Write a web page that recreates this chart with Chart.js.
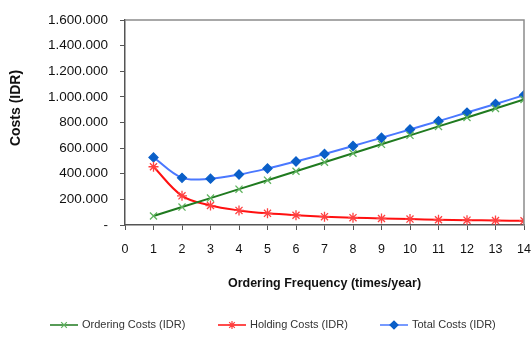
<!DOCTYPE html>
<html>
<head>
<meta charset="utf-8">
<script src="https://cdn.jsdelivr.net/npm/chart.js@4.4.0/dist/chart.umd.min.js"></script>
<style>
  html, body { margin: 0; padding: 0; background: #fff; }
  #wrap { width: 532px; height: 343px; }
</style>
</head>
<body>
<div id="wrap"><canvas id="grafico" width="532" height="343"></canvas></div>
<script>
// Frequência de pedidos (vezes/ano) e custos em IDR
const frequencia = [1, 2, 3, 4, 5, 6, 7, 8, 9, 10, 11, 12, 13, 14];
const custoPedido = [70000, 140000, 210000, 280000, 350000, 420000, 490000, 560000, 630000, 700000, 770000, 840000, 910000, 980000];
const custoEstoque = [455000, 228000, 152000, 114000, 91000, 76000, 65000, 57000, 51000, 46000, 41000, 38000, 35000, 33000];
const custoTotal = [528000, 368000, 362000, 394000, 441000, 496000, 555000, 617000, 681000, 746000, 811000, 878000, 945000, 1013000];
const ticksY = [0, 200000, 400000, 600000, 800000, 1000000, 1200000, 1400000, 1600000];

const fonte = "'Liberation Sans', Arial, sans-serif";

function pontos(valores) {
    return frequencia.map((f, i) => ({ x: f, y: valores[i] }));
}

// Formata no padrão 1.600.000, zero vira "-"
function formatarValor(v) {
    if (v === 0) return '-';
    return v.toString().replace(/\B(?=(\d{3})+(?!\d))/g, '.');
}

const series = [
    { label: 'Ordering Costs (IDR)', data: custoPedido, linha: '#1f7a1f', ponto: '#5fb35f', estilo: 'crossRot', raio: 5, tensao: 0 },
    { label: 'Holding Costs (IDR)', data: custoEstoque, linha: '#ff1010', ponto: '#ff4040', estilo: 'star', raio: 5, tensao: 0.35 },
    { label: 'Total Costs (IDR)', data: custoTotal, linha: '#4a78ff', ponto: '#0a5fc8', estilo: 'rectRot', raio: 4.5, tensao: 0.35 }
];

// Moldura cinza em volta da área do gráfico
const moldura = {
    id: 'moldura',
    afterDraw(chart) {
        const { ctx, chartArea: a } = chart;
        ctx.save();
        ctx.strokeStyle = '#8c8c8c';
        ctx.lineWidth = 1.5;
        ctx.beginPath();
        ctx.moveTo(a.left, a.top);
        ctx.lineTo(a.right, a.top);
        ctx.lineTo(a.right, a.bottom);
        ctx.stroke();
        ctx.restore();
    }
};

// Título do eixo Y, um pouco acima do centro
const tituloY = {
    id: 'tituloY',
    afterDraw(chart) {
        const ctx = chart.ctx;
        ctx.save();
        ctx.translate(16, 108);
        ctx.rotate(-Math.PI / 2);
        ctx.font = 'bold 14px ' + fonte;
        ctx.fillStyle = '#111';
        ctx.textAlign = 'center';
        ctx.textBaseline = 'middle';
        ctx.fillText('Costs (IDR)', 0, 0);
        ctx.restore();
    }
};

// Legenda desenhada à mão: linha com marcador no meio e texto ao lado
const legenda = {
    id: 'legenda',
    afterDraw(chart) {
        const ctx = chart.ctx;
        const y = 325;
        const posicoes = [50, 218, 380];
        ctx.save();
        ctx.font = '11px ' + fonte;
        ctx.textBaseline = 'middle';
        chart.data.datasets.forEach((ds, i) => {
            const x = posicoes[i];
            ctx.strokeStyle = ds.borderColor;
            ctx.lineWidth = 1.5;
            ctx.beginPath();
            ctx.moveTo(x, y);
            ctx.lineTo(x + 28, y);
            ctx.stroke();
            ctx.fillStyle = ds.pointBackgroundColor;
            ctx.strokeStyle = ds.pointBorderColor;
            ctx.lineWidth = 1.2;
            Chart.helpers.drawPoint(ctx, { pointStyle: ds.pointStyle, radius: 4, borderWidth: 1.2 }, x + 14, y);
            ctx.fillStyle = '#333';
            ctx.fillText(ds.label, x + 32, y);
        });
        ctx.restore();
    }
};

new Chart(document.getElementById('grafico').getContext('2d'), {
    type: 'line',
    data: {
        datasets: series.map(s => ({
            label: s.label,
            data: pontos(s.data),
            borderColor: s.linha,
            borderWidth: 2,
            backgroundColor: s.ponto,
            pointStyle: s.estilo,
            pointRadius: s.raio,
            pointBackgroundColor: s.ponto,
            pointBorderColor: s.ponto,
            pointBorderWidth: 1.3,
            tension: s.tensao,
            fill: false
        }))
    },
    options: {
        responsive: false,
        animation: false,
        layout: { padding: { top: 20, right: 0, bottom: 48, left: 0 } },
        plugins: {
            legend: { display: false },
            tooltip: { enabled: false }
        },
        scales: {
            x: {
                type: 'linear',
                min: 0,
                max: 14,
                afterFit(scale) {
                    scale.height = 70;
                    scale.paddingRight = 8;
                },
                ticks: {
                    stepSize: 1,
                    color: '#111',
                    padding: 12,
                    font: { family: fonte, size: 12.5 }
                },
                grid: { drawOnChartArea: false, drawTicks: true, tickLength: 5, color: '#555' },
                border: { color: '#555', width: 1.5 },
                title: {
                    display: true,
                    text: 'Ordering Frequency (times/year)',
                    color: '#111',
                    font: { family: fonte, size: 12.5, weight: 'bold' },
                    padding: { top: 6 }
                }
            },
            y: {
                min: 0,
                max: 1600000,
                afterFit(scale) { scale.width = 125; },
                afterBuildTicks(scale) { scale.ticks = ticksY.map(v => ({ value: v })); },
                ticks: {
                    color: '#111',
                    padding: 12,
                    font: { family: fonte, size: 13.5 },
                    callback: v => formatarValor(v)
                },
                grid: { drawOnChartArea: false, drawTicks: true, tickLength: 5, color: '#555' },
                border: { color: '#555', width: 1.5 }
            }
        }
    },
    plugins: [moldura, tituloY, legenda]
});
</script>
</body>
</html>
